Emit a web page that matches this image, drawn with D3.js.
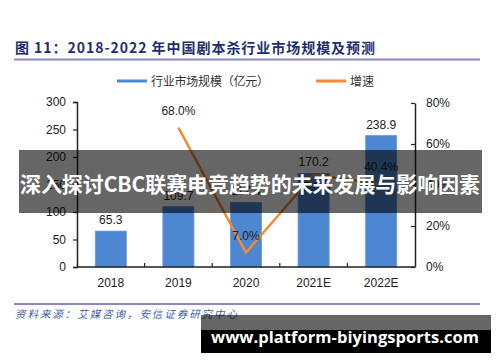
<!DOCTYPE html>
<html>
<head>
<meta charset="utf-8">
<script src="https://cdn.jsdelivr.net/npm/d3@7"></script>
<style>
  body { margin: 0; background: #fff; }
  svg { display: block; font-family: "Liberation Sans", Arial, sans-serif; }
  .cn { font-family: "Noto Sans CJK SC", sans-serif; }
</style>
</head>
<body>
<div id="container"></div>
<script>
const categories = ["2018", "2019", "2020", "2021E", "2022E"];
const marketSize = [65.3, 109.7, 117.4, 170.2, 238.9];
const growth = [null, 0.68, 0.07, 0.45, 0.404];
const leftTicks = [0, 50, 100, 150, 200, 250, 300];
const rightTicks = [0, 0.2, 0.4, 0.6, 0.8];

const W = 500, H = 362;
const blue = "#4d87d1", orange = "#f28d35", rule = "#8a86c0";

const svg = d3.select("#container").append("svg")
    .attr("width", W)
    .attr("height", H);

// title + rule
svg.append("text")
    .attr("class", "cn")
    .attr("x", 15).attr("y", 53)
    .attr("fill", "#1f2f6e")
    .attr("font-size", 14)
    .attr("font-weight", "bold")
    .attr("textLength", 360)
    .text("图 11：2018-2022 年中国剧本杀行业市场规模及预测");

svg.append("line")
    .attr("x1", 14).attr("x2", 480)
    .attr("y1", 59.5).attr("y2", 59.5)
    .attr("stroke", rule).attr("stroke-width", 2);

// legend
const legend = [
    { label: "行业市场规模（亿元）", color: blue, x: 117, len: 118 },
    { label: "增速", color: orange, x: 316, len: 24 }
];
legend.forEach(l => {
    svg.append("line")
        .attr("x1", l.x).attr("x2", l.x + 30)
        .attr("y1", 81).attr("y2", 81)
        .attr("stroke", l.color).attr("stroke-width", 3);
    svg.append("text")
        .attr("class", "cn")
        .attr("x", l.x + 34).attr("y", 85.5)
        .attr("font-size", 12)
        .attr("fill", "#333")
        .attr("textLength", l.len)
        .text(l.label);
});

// scales
const x = d3.scaleBand().domain(categories).range([77, 415]);
const yL = d3.scaleLinear().domain([0, 300]).range([267, 102]);
const yR = d3.scaleLinear().domain([0, 0.8]).range([267, 103]);
const bw = x.bandwidth();

// bars
svg.append("g").selectAll("rect")
    .data(categories)
    .join("rect")
        .attr("x", d => x(d) + bw * 0.27)
        .attr("width", bw * 0.46)
        .attr("y", (d, i) => yL(marketSize[i]))
        .attr("height", (d, i) => yL(0) - yL(marketSize[i]))
        .attr("fill", blue)
        .attr("stroke", "#6a9bdc")
        .attr("stroke-width", 0.8);

svg.append("g").selectAll("text")
    .data(categories)
    .join("text")
        .attr("x", d => x(d) + bw / 2)
        .attr("y", (d, i) => yL(marketSize[i]) - 7)
        .attr("text-anchor", "middle")
        .attr("font-size", 12)
        .attr("fill", "#222")
        .text((d, i) => marketSize[i].toFixed(1));

// axes
const gL = svg.append("g")
    .attr("transform", "translate(77,0)")
    .call(d3.axisLeft(yL).tickValues(leftTicks).tickSize(4).tickPadding(7));

const gR = svg.append("g")
    .attr("transform", "translate(415,0)")
    .call(d3.axisRight(yR).tickValues(rightTicks).tickSizeInner(-4).tickSizeOuter(0)
        .tickPadding(11).tickFormat(d3.format(".0%")));

const gB = svg.append("g")
    .attr("transform", "translate(0,267)")
    .call(d3.axisBottom(x).tickSize(0).tickPadding(11));

[gL, gR, gB].forEach(g => {
    g.selectAll("text").attr("font-size", 12).attr("fill", "#222")
        .attr("font-family", "Liberation Sans, Arial, sans-serif");
    g.selectAll("line").attr("stroke", "#222").attr("stroke-width", 1.2);
    g.select(".domain").attr("stroke", "#222").attr("stroke-width", 1.5);
});
gB.select(".domain").attr("d", "M77,0H415");

// category separators pointing up
svg.append("g").selectAll("line")
    .data(categories.slice(1))
    .join("line")
        .attr("x1", d => x(d)).attr("x2", d => x(d))
        .attr("y1", 263).attr("y2", 267)
        .attr("stroke", "#222").attr("stroke-width", 1.2);

// growth line
const pts = categories.map((c, i) => ({ c, v: growth[i] })).filter(d => d.v !== null);
svg.append("path")
    .datum(pts)
    .attr("fill", "none")
    .attr("stroke", orange)
    .attr("stroke-width", 2.5)
    .attr("d", d3.line().x(d => x(d.c) + bw / 2).y(d => yR(d.v)));

// 2021E label sits below its point (covered by the banner in the reference)
svg.append("g").selectAll("text")
    .data(pts)
    .join("text")
        .attr("x", d => x(d.c) + bw / 2)
        .attr("y", d => d.c === "2021E" ? yR(d.v) + 16 : yR(d.v) - 13)
        .attr("text-anchor", "middle")
        .attr("font-size", 12)
        .attr("fill", "#222")
        .text(d => d3.format(".1%")(d.v));

// source
svg.append("line")
    .attr("x1", 14).attr("x2", 480)
    .attr("y1", 304).attr("y2", 304)
    .attr("stroke", rule).attr("stroke-width", 2);

svg.append("text")
    .attr("class", "cn")
    .attr("x", 15).attr("y", 318)
    .attr("font-size", 10.5)
    .attr("font-style", "italic")
    .attr("fill", "#3f63a8")
    .attr("textLength", 222)
    .text("资料来源：艾媒咨询，安信证券研究中心");

// overlay banner
svg.append("rect")
    .attr("x", 19).attr("y", 150)
    .attr("width", 463).attr("height", 63)
    .attr("fill", "#000").attr("opacity", 0.6);

svg.append("text")
    .attr("class", "cn")
    .attr("x", 250).attr("y", 192)
    .attr("text-anchor", "middle")
    .attr("font-size", 21)
    .attr("font-weight", "bold")
    .attr("fill", "#fff")
    .attr("textLength", 460)
    .text("深入探讨CBC联赛电竞趋势的未来发展与影响因素");

// watermark
svg.append("rect")
    .attr("x", 201).attr("y", 315)
    .attr("width", 290).attr("height", 15)
    .attr("fill", "#000").attr("opacity", 0.6);
svg.append("rect")
    .attr("x", 201).attr("y", 330)
    .attr("width", 290).attr("height", 23)
    .attr("fill", "#000");
svg.append("text")
    .attr("x", 345).attr("y", 343)
    .attr("text-anchor", "middle")
    .attr("font-family", "Open Sans, sans-serif")
    .attr("font-size", 16.5)
    .attr("font-weight", "bold")
    .attr("fill", "#fff")
    .attr("textLength", 268)
    .text("www.platform-biyingsports.com");
</script>
</body>
</html>
